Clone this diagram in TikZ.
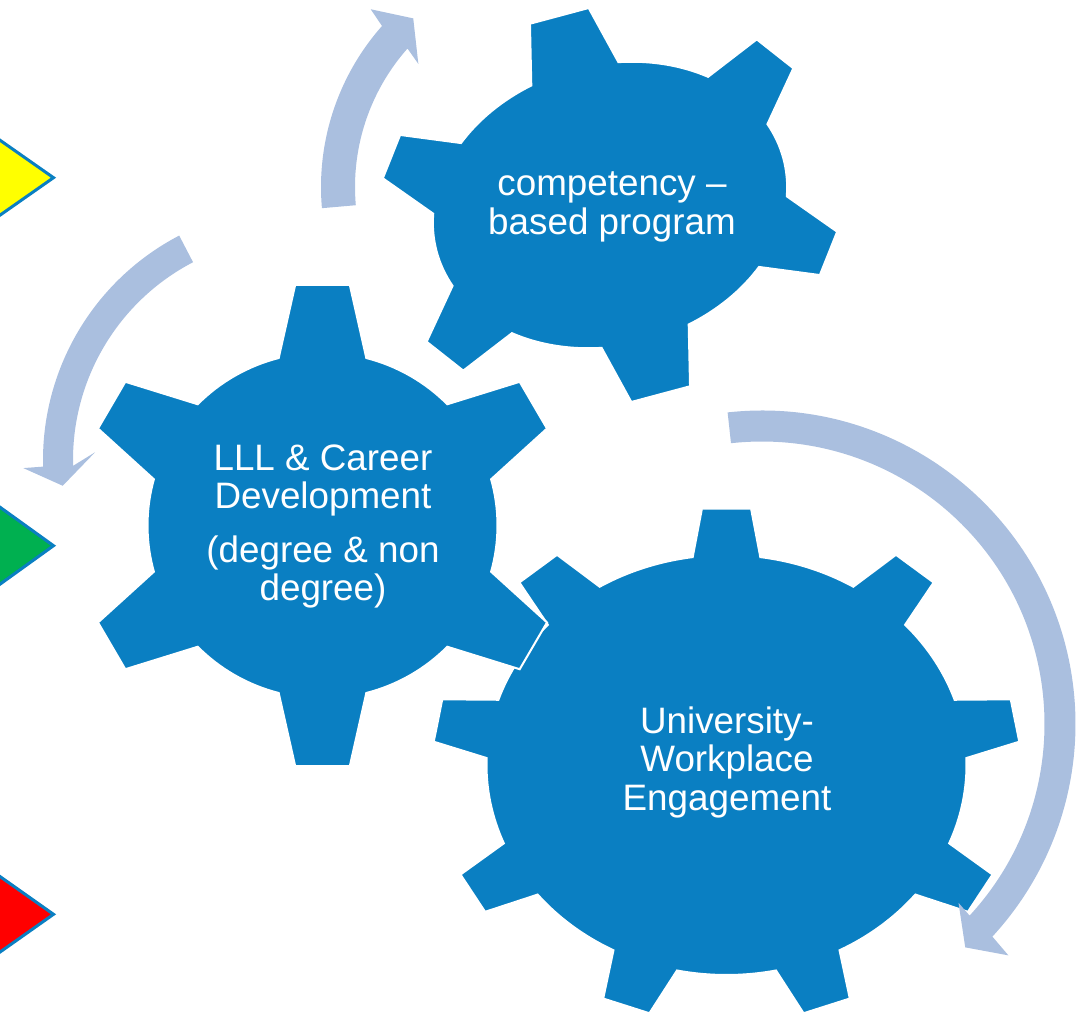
\documentclass[tikz,border=0pt]{standalone}
\usepackage{fontspec}
\setmainfont{Liberation Sans}
\definecolor{gearblue}{HTML}{0A7FC2}
\definecolor{arrowblue}{HTML}{AABFDF}
\definecolor{triyellow}{HTML}{FFFF00}
\definecolor{trigreen}{HTML}{00B050}
\definecolor{trired}{HTML}{FF0000}
% #1 teeth, #2 first tooth angle, #3 base half-angle, #4 tip half-angle, #5 tip radius
\newcommand{\gearoutline}[5]{({#2-#3}:1pt) foreach \k [evaluate=\k as \a using #2+(\k-1)*360/#1] in {1,...,#1} { -- ({\a-#4}:#5pt) -- ({\a+#4}:#5pt) -- ({\a+#3}:1pt) arc[start angle={\a+#3}, end angle={\a+360/#1-#3}, radius=1pt] } -- cycle}
\begin{document}
\begin{tikzpicture}[x=1pt,y=1pt,
  gearshape/.style={fill=gearblue, draw=white, line width=2pt, line join=miter},
  bendarrow/.style={fill=arrowblue},
  marker/.style={draw=gearblue, line width=3pt, line join=miter},
  geartext/.style={text=white, align=center, font=\fontsize{36.8}{38.5}\selectfont, inner sep=0pt}]
\useasboundingbox (0,0) rectangle (1076,-1019);
\clip (0,0) rectangle (1076,-1019);

% left markers
\path[marker, fill=triyellow] (53.5,-177.7) -- (-40,-112.2) -- (-40,-243.2) -- cycle;
\path[marker, fill=trigreen] (53.5,-545.7) -- (-40,-478.4) -- (-40,-613) -- cycle;
\path[marker, fill=trired] (53.5,-914.3) -- (-40,-848.3) -- (-40,-980.3) -- cycle;

% competency gear
\begin{scope}[shift={(610,-205)}, rotate=15]
\path[gearshape] (15.45:179.5pt and 140.3pt) -- (212.5,84.6) -- (184.6,122)
  -- (44.55:179.5pt and 140.3pt) arc[start angle=44.55, end angle=75.45, x radius=179.5pt, y radius=140.3pt]
  -- (30.4,195.8) -- (-30.4,195.8)
  -- (104.55:179.5pt and 140.3pt) arc[start angle=104.55, end angle=135.45, x radius=179.5pt, y radius=140.3pt]
  -- (-184.6,122) -- (-212.5,84.6)
  -- (164.55:179.5pt and 140.3pt) arc[start angle=164.55, end angle=195.45, x radius=179.5pt, y radius=140.3pt]
  -- (-212.5,-84.6) -- (-184.6,-122)
  -- (224.55:179.5pt and 140.3pt) arc[start angle=224.55, end angle=255.45, x radius=179.5pt, y radius=140.3pt]
  -- (-30.4,-195.8) -- (30.4,-195.8)
  -- (284.55:179.5pt and 140.3pt) arc[start angle=284.55, end angle=315.45, x radius=179.5pt, y radius=140.3pt]
  -- (184.6,-122) -- (212.5,-84.6)
  -- (344.55:179.5pt and 140.3pt) arc[start angle=344.55, end angle=375.45, x radius=179.5pt, y radius=140.3pt]
  -- cycle;
\end{scope}

% big gear
\begin{scope}[shift={(726.5,-765)}, xscale=240, yscale=210]
\path[gearshape] \gearoutline{9}{90}{8.1}{4.8}{1.225};
\end{scope}

% LLL gear
\begin{scope}[shift={(322.5,-525.5)}, xscale=175, yscale=173]
\path[gearshape] \gearoutline{6}{90}{14.5}{6.4}{1.40};
\end{scope}

\node[geartext] (comp) at (612,-207.3) {\strut competency –\\\strut based program};
\node[geartext] (lll) at (323,-527.8) {\strut LLL \& Career\\\strut Development\\[15.2pt]\strut (degree \& non\\\strut degree)};
\node[geartext] (uwe) at (727,-764) {\strut University-\\\strut Workplace\\\strut Engagement};

% circular arrows
\begin{scope}[shift={(564,-187)}]
\path[bendarrow] (185:243pt) arc[start angle=185, end angle=138.5, radius=243pt]
  -- (137.4:262.6pt) -- (131.8:226.2pt) -- (139.8:190.7pt) -- (138.5:209pt)
  arc[start angle=138.5, end angle=185, radius=209pt] -- cycle;
\end{scope}
\begin{scope}[shift={(296,-460)}]
\path[bendarrow] (117.5:253pt) arc[start angle=117.5, end angle=181.5, radius=253pt]
  -- (181.7:272.8pt) -- (186.3:234.7pt) -- (177.8:201.1pt) -- (181.5:223pt)
  arc[start angle=181.5, end angle=117.5, radius=223pt] -- cycle;
\end{scope}
\begin{scope}[shift={(762,-724)}]
\path[bendarrow] (96.3:313.5pt) arc[start angle=96.3, end angle=-42.7, radius=313.5pt]
  -- (-43.2:338pt) -- (-47.7:302pt) -- (-42.3:265.7pt) -- (-42.7:282.5pt)
  arc[start angle=-42.7, end angle=96.3, radius=282.5pt] -- cycle;
\end{scope}
\end{tikzpicture}
\end{document}
